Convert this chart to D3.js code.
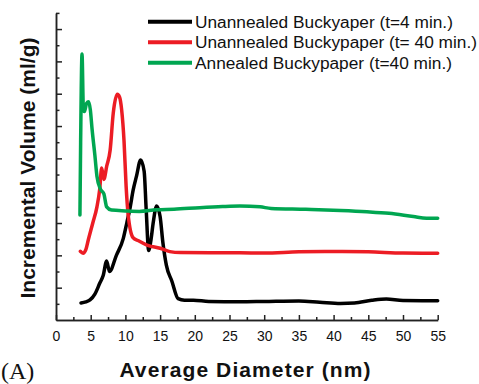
<!DOCTYPE html>
<html>
<head>
<meta charset="utf-8">
<script src="https://cdn.jsdelivr.net/npm/d3@7"></script>
<style>
  body { margin: 0; background: #fff; }
  svg { display: block; }
</style>
</head>
<body>
<div id="chart"></div>
<script>
// series: [diameter nm, incremental volume]
const blackSeries = [
  [3.6, 1.05], [4.3, 1.12], [4.9, 1.24], [5.6, 1.6], [6.3, 2.27], [6.8, 2.75], [7.3, 3.65],
  [7.7, 3.0], [8.7, 4.0], [9.7, 5.05], [10.2, 6.0], [10.7, 7.0], [11.1, 8.0], [11.6, 8.9],
  [12.2, 9.9], [12.7, 9.2], [13.0, 6.8], [13.35, 4.3], [13.7, 5.0], [14.0, 6.0], [14.5, 7.05],
  [15.0, 6.4], [15.4, 4.8], [15.9, 3.4], [16.7, 2.4], [17.6, 1.32], [18.5, 1.22], [19.8, 1.22],
  [22, 1.15], [26.5, 1.13], [30, 1.15], [35, 1.18], [38, 1.1], [41, 1.02], [43, 1.05],
  [45.5, 1.22], [47.6, 1.3], [50, 1.2], [55, 1.19]
];
const redSeries = [
  [3.5, 4.25], [3.9, 4.13], [4.3, 4.35], [4.65, 4.95], [5.3, 6.0], [5.9, 7.0], [6.3, 8.1],
  [6.58, 9.4], [6.9, 8.7], [7.3, 9.5], [7.8, 10.5], [8.25, 12.8], [8.83, 13.96], [9.15, 13.8],
  [9.46, 13.0], [9.8, 11.1], [10.1, 8.3], [10.4, 6.5], [11.1, 5.1], [11.9, 4.9], [13.1, 4.64],
  [15.0, 4.44], [16.4, 4.23], [17.9, 4.17], [26.5, 4.16], [30, 4.14], [35, 4.22], [40, 4.24],
  [45, 4.22], [50, 4.14], [55, 4.13]
];
const greenSeries = [
  [3.45, 6.5], [3.55, 11.0], [3.75, 16.45], [3.95, 13.0], [4.1, 12.9], [4.4, 13.4], [4.7, 13.5],
  [4.95, 13.0], [5.2, 11.8], [5.6, 10.2], [5.9, 8.9], [6.4, 8.1], [6.9, 7.8], [7.3, 7.0],
  [8.0, 6.8], [10, 6.75], [12, 6.72], [14.5, 6.82], [17, 6.85], [20.7, 6.95], [24, 7.02],
  [26.5, 7.05], [29.4, 7.0], [31, 6.9], [36, 6.85], [41, 6.78], [44.8, 6.7], [48, 6.6],
  [51.5, 6.4], [53.4, 6.3], [55, 6.3]
];
const seriesNames = [
  'Unannealed Buckyaper (t=4 min.)',
  'Unannealed Buckypaper (t= 40 min.)',
  'Annealed Buckypaper (t=40 min.)'
];
const seriesColors = ['#000000', '#ec1c24', '#00a651'];
const xTicks = [0, 5, 10, 15, 20, 25, 30, 35, 40, 45, 50, 55];
const xTitle = 'Average Diameter (nm)';
const yTitle = 'Incremental Volume (ml/g)';
const panelLabel = '(A)';

const width = 479, height = 384;
const font = '"Liberation Sans", Arial, sans-serif';

const svg = d3.select('#chart').append('svg')
  .attr('width', width)
  .attr('height', height);

const x = d3.scaleLinear().domain([0, 55]).range([56, 437.7]);
const y = d3.scaleLinear().domain([0, 19]).range([320, 12.9]);

// x axis, ticks pointing up into the plot
const xMinor = svg.append('g')
  .attr('transform', `translate(0,${y(0)})`)
  .call(d3.axisBottom(x).tickValues(d3.range(2.5, 55, 5)).tickSizeInner(-3).tickSizeOuter(0).tickFormat(''));
const xAxis = svg.append('g')
  .attr('transform', `translate(0,${y(0)})`)
  .call(d3.axisBottom(x).tickValues(xTicks).tickSizeInner(-5).tickSizeOuter(0).tickPadding(11));
xAxis.selectAll('text')
  .attr('font-family', font)
  .attr('font-size', 14)
  .attr('fill', '#111');

// y axis, no labels, ticks pointing right
const yMinor = svg.append('g')
  .attr('transform', `translate(${x(0)},0)`)
  .call(d3.axisLeft(y).tickValues(d3.range(1, 20, 2)).tickSizeInner(-3.5).tickSizeOuter(0).tickFormat(''));
const yAxis = svg.append('g')
  .attr('transform', `translate(${x(0)},0)`)
  .call(d3.axisLeft(y).tickValues(d3.range(2, 19, 2)).tickSizeInner(-6).tickSizeOuter(0).tickFormat(''));

svg.selectAll('.domain, .tick line')
  .attr('stroke', '#222')
  .attr('stroke-width', 1.5);

// curves
const line = d3.line()
  .x(d => x(d[0]))
  .y(d => y(d[1]))
  .curve(d3.curveMonotoneX);

[blackSeries, redSeries, greenSeries].forEach((s, i) => {
  svg.append('path')
    .datum(s)
    .attr('fill', 'none')
    .attr('stroke', seriesColors[i])
    .attr('stroke-width', 3.5)
    .attr('stroke-linejoin', 'round')
    .attr('stroke-linecap', 'round')
    .attr('d', line);
});

// legend
const legend = svg.append('g');
seriesNames.forEach((name, i) => {
  const ly = 21.7 + i * 20.5;
  legend.append('line')
    .attr('x1', 148).attr('x2', 192)
    .attr('y1', ly).attr('y2', ly)
    .attr('stroke', seriesColors[i])
    .attr('stroke-width', 4);
  legend.append('text')
    .attr('x', 195)
    .attr('y', ly + 6)
    .attr('font-family', font)
    .attr('font-size', 17.3)
    .attr('fill', '#111')
    .text(name);
});

// titles
svg.append('text')
  .attr('x', 245.5)
  .attr('y', 377)
  .attr('text-anchor', 'middle')
  .attr('font-family', font)
  .attr('font-size', 21)
  .attr('font-weight', 'bold')
  .attr('letter-spacing', 1.1)
  .attr('fill', '#111')
  .text(xTitle);

svg.append('text')
  .attr('transform', 'translate(35,168) rotate(-90)')
  .attr('text-anchor', 'middle')
  .attr('font-family', font)
  .attr('font-size', 21)
  .attr('font-weight', 'bold')
  .attr('fill', '#111')
  .text(yTitle);

svg.append('text')
  .attr('x', 1)
  .attr('y', 379)
  .attr('font-family', '"Liberation Serif", "Times New Roman", serif')
  .attr('font-size', 24)
  .attr('fill', '#111')
  .text(panelLabel);
</script>
</body>
</html>
